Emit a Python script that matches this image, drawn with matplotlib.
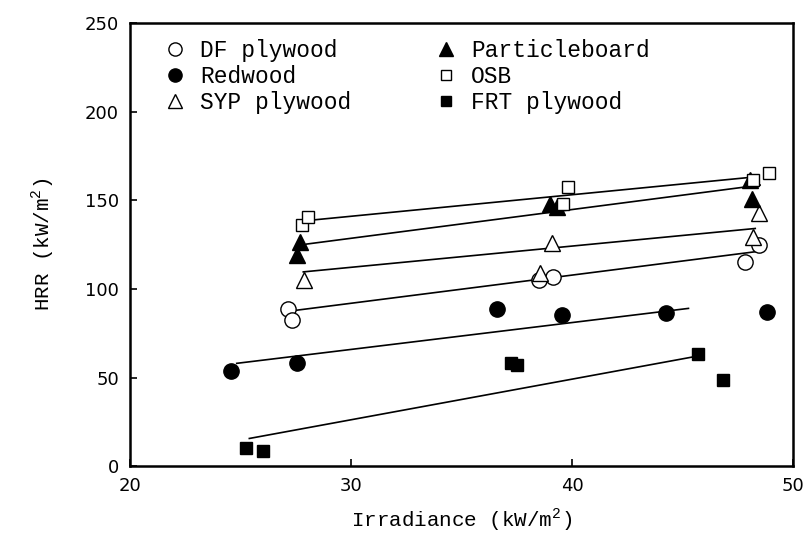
import numpy as np
from matplotlib import pyplot as plt

# values
names = ["DF plywood", "Redwood", "SYP plywood", "Particleboard", "OSB", "FRT plywood"]

df_x = [27.13, 27.31, 38.52, 39.15, 47.83, 48.43]
df_y = [88.4, 82.4, 105.0, 106.8, 115.3, 124.7]
red_x = [24.55, 27.56, 36.6, 39.53, 44.24, 48.81]
red_y = [53.5, 58.0, 88.8, 85.2, 86.5, 86.7]
syp_x = [27.87, 38.55, 39.07, 48.2, 48.43]
syp_y = [105.0, 108.7, 125.7, 129.4, 142.6]
pb_x = [27.54, 27.69, 39.0, 39.3, 48.05, 48.13]
pb_y = [119.0, 126.6, 147.9, 146.0, 161.4, 150.5]
osb_x = [27.76, 28.07, 39.6, 39.83, 48.2, 48.88]
osb_y = [136.0, 140.3, 148.0, 157.3, 161.4, 165.2]
frt_x = [25.24, 26.02, 37.23, 37.5, 45.68, 46.8]
frt_y = [10.5, 8.6, 58.0, 57.0, 63.2, 48.5]

# fitted lines, end points
df_fit_x = [27.3, 48.3]
df_fit_y = [87.6, 121.0]
red_fit_x = [24.83, 45.26]
red_fit_y = [58.0, 89.0]
syp_fit_x = [27.84, 48.28]
syp_fit_y = [109.6, 134.1]
pb_fit_x = [27.99, 48.5]
pb_fit_y = [125.3, 158.6]
osb_fit_x = [28.2, 48.35]
osb_fit_y = [138.8, 163.3]
frt_fit_x = [25.4, 45.5]
frt_fit_y = [15.6, 61.7]

mono = "Liberation Mono"
plt.rcParams['mathtext.fontset'] = 'custom'
plt.rcParams['mathtext.rm'] = mono

fig = plt.figure(figsize=(8.07, 5.37), dpi=100)
ax = fig.add_axes([0.161, 0.132, 0.822, 0.825])

series = [
    (df_x, df_y, df_fit_x, df_fit_y, "o", "white", 11),
    (red_x, red_y, red_fit_x, red_fit_y, "o", "black", 11),
    (syp_x, syp_y, syp_fit_x, syp_fit_y, "^", "white", 11),
    (pb_x, pb_y, pb_fit_x, pb_fit_y, "^", "black", 11),
    (osb_x, osb_y, osb_fit_x, osb_fit_y, "s", "white", 9),
    (frt_x, frt_y, frt_fit_x, frt_fit_y, "s", "black", 9),
]

handles = []
for (xs, ys, fx, fy, mk, fc, ms), nm in zip(series, names):
    ax.plot(fx, fy, color="black", lw=1.2, zorder=2)
    ax.plot(xs, ys, ls="none", marker=mk, ms=ms, mfc=fc, mec="black",
            mew=1.0, zorder=3)
    h, = ax.plot([], [], ls="none", marker=mk, ms=ms - 1.5, mfc=fc,
                 mec="black", mew=1.0, label=nm)
    handles.append(h)

ax.set_xlim(20, 50)
ax.set_ylim(0, 250)
ax.set_xticks([20, 30, 40, 50])
ax.set_yticks([0, 50, 100, 150, 200, 250])
ax.tick_params(direction="in", length=5, width=1.2, labelsize=13, pad=8)
for s in ax.spines.values():
    s.set_linewidth(1.8)

ax.set_xlabel(r"Irradiance (kW/m$^{2}$)", fontsize=15, family=mono, labelpad=8)
ax.set_ylabel(r"HRR (kW/m$^{2}$)", fontsize=15, family=mono, labelpad=20)

ax.legend(handles=handles, ncol=2, frameon=False, loc="upper left",
          bbox_to_anchor=(0.02, 1.01), prop={"family": mono, "size": 16.5},
          handletextpad=0.6, columnspacing=3.6, labelspacing=0.12,
          handlelength=1.0)

fig.savefig("out.png", dpi=100)
